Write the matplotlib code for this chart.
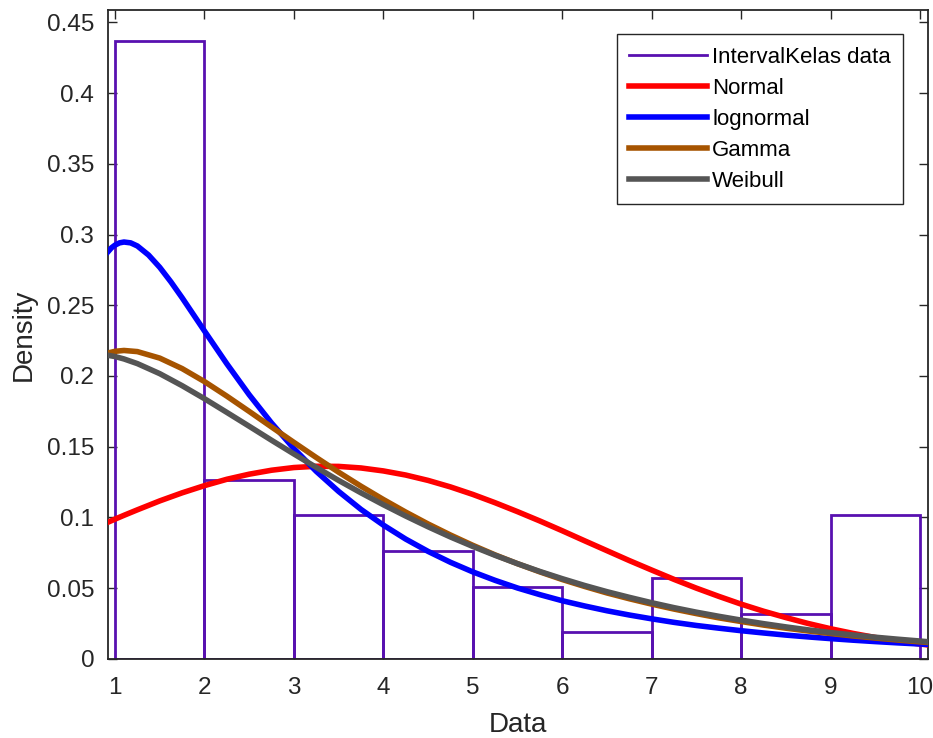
import matplotlib
matplotlib.use("Agg")
import matplotlib.pyplot as plt
from matplotlib.lines import Line2D

plt.rcParams['font.family'] = ['Liberation Sans', 'DejaVu Sans']

# Histogram (density) data
bin_edges = [1, 2, 3, 4, 5, 6, 7, 8, 9, 10]
bin_density = [0.4367, 0.1266, 0.1013, 0.0759, 0.0506, 0.0190, 0.0570, 0.0316, 0.1013]

# Fitted density curves
x_curve = [0.92, 1.0, 1.1, 1.25, 1.5, 1.75, 2.0, 2.25, 2.5, 2.75, 3.0, 3.25, 3.5, 3.75,
           4.0, 4.25, 4.5, 4.75, 5.0, 5.25, 5.5, 5.75, 6.0, 6.25, 6.5, 6.75, 7.0, 7.25,
           7.5, 7.75, 8.0, 8.25, 8.5, 8.75, 9.0, 9.25, 9.5, 9.75, 10.0, 10.09]
normal_pdf = [0.0965, 0.0987, 0.1014, 0.1053, 0.1116, 0.1173, 0.1224, 0.1269, 0.1305, 0.1333,
              0.1352, 0.1361, 0.1360, 0.1349, 0.1328, 0.1299, 0.1261, 0.1215, 0.1162, 0.1103,
              0.1040, 0.0974, 0.0905, 0.0834, 0.0764, 0.0694, 0.0627, 0.0561, 0.0499, 0.0441,
              0.0386, 0.0336, 0.0291, 0.0249, 0.0212, 0.0179, 0.0150, 0.0125, 0.0104, 0.0097]
x_lognormal = [0.92, 0.96, 1.0, 1.05, 1.1, 1.175, 1.25, 1.375, 1.5, 1.625, 1.75, 2.0, 2.25,
               2.5, 2.75, 3.0, 3.25, 3.5, 3.75, 4.0, 4.25, 4.5, 4.75, 5.0, 5.25, 5.5, 5.75,
               6.0, 6.25, 6.5, 6.75, 7.0, 7.25, 7.5, 7.75, 8.0, 8.25, 8.5, 8.75, 9.0, 9.25,
               9.5, 9.75, 10.0, 10.09]
lognormal_pdf = [0.2877, 0.2906, 0.2925, 0.2941, 0.2947, 0.2941, 0.2919, 0.2855, 0.2768, 0.2665,
                 0.2553, 0.2318, 0.2086, 0.1867, 0.1667, 0.1486, 0.1325, 0.1183, 0.1056, 0.0945,
                 0.0846, 0.0759, 0.0682, 0.0614, 0.0554, 0.0500, 0.0453, 0.0410, 0.0373, 0.0339,
                 0.0309, 0.0282, 0.0257, 0.0235, 0.0216, 0.0198, 0.0182, 0.0167, 0.0154, 0.0142,
                 0.0131, 0.0121, 0.0112, 0.0104, 0.0101]
gamma_pdf = [0.2162, 0.2174, 0.2180, 0.2172, 0.2126, 0.2052, 0.1960, 0.1857, 0.1749, 0.1639,
             0.1530, 0.1423, 0.1319, 0.1220, 0.1126, 0.1037, 0.0953, 0.0875, 0.0802, 0.0734,
             0.0672, 0.0614, 0.0560, 0.0511, 0.0465, 0.0424, 0.0386, 0.0351, 0.0319, 0.0289,
             0.0263, 0.0238, 0.0216, 0.0196, 0.0178, 0.0161, 0.0146, 0.0132, 0.0119, 0.0115]
weibull_pdf = [0.2146, 0.2137, 0.2120, 0.2087, 0.2016, 0.1931, 0.1839, 0.1742, 0.1644, 0.1545,
               0.1448, 0.1353, 0.1261, 0.1173, 0.1089, 0.1009, 0.0933, 0.0861, 0.0794, 0.0731,
               0.0672, 0.0617, 0.0566, 0.0518, 0.0474, 0.0434, 0.0396, 0.0361, 0.0329, 0.0300,
               0.0273, 0.0248, 0.0225, 0.0204, 0.0185, 0.0168, 0.0152, 0.0138, 0.0125, 0.0120]

x_ticks = [1, 2, 3, 4, 5, 6, 7, 8, 9, 10]
y_ticks = [0, 0.05, 0.1, 0.15, 0.2, 0.25, 0.3, 0.35, 0.4, 0.45]
y_tick_labels = ['0', '0.05', '0.1', '0.15', '0.2', '0.25', '0.3', '0.35', '0.4', '0.45']
legend_labels = ['IntervalKelas data', 'Normal', 'lognormal', 'Gamma', 'Weibull']

AX_COLOR = '#262626'
HIST_COLOR = '#5810b0'

W, H = 933, 738
fig = plt.figure(figsize=(W / 100, H / 100), dpi=100)
ax = fig.add_axes([107.5 / W, 1 - 658.7 / H, (928.3 - 107.5) / W, (658.7 - 10) / H])

lefts = bin_edges[:-1]
widths = [b - a for a, b in zip(bin_edges[:-1], bin_edges[1:])]
ax.bar(lefts, bin_density, width=widths, align='edge', fill=False,
       edgecolor=HIST_COLOR, linewidth=2.0, zorder=2)

l1, = ax.plot(x_curve, normal_pdf, color='#ff0000', lw=4, zorder=3)
l2, = ax.plot(x_lognormal, lognormal_pdf, color='#0000ff', lw=4, zorder=3)
l3, = ax.plot(x_curve, gamma_pdf, color='#a65400', lw=4, zorder=3)
l4, = ax.plot(x_curve, weibull_pdf, color='#555555', lw=4, zorder=3)

ax.set_xlim(0.916, 10.093)
ax.set_ylim(0, 0.4588)
ax.set_xticks(x_ticks)
ax.set_xticklabels([str(t) for t in x_ticks])
ax.set_yticks(y_ticks)
ax.set_yticklabels(y_tick_labels)

ax.tick_params(direction='in', length=6.5, width=1.0, colors=AX_COLOR,
               labelsize=17.5, top=True, right=True)
ax.tick_params(axis='x', pad=13.5)
ax.tick_params(axis='y', pad=9.5)
for s in ax.spines.values():
    s.set_color(AX_COLOR)
    s.set_linewidth(1.3)

ax.set_xlabel('Data', fontsize=20, color=AX_COLOR, labelpad=9)
ax.set_ylabel('Density', fontsize=20, color=AX_COLOR, labelpad=7)

hist_handle = Line2D([], [], color=HIST_COLOR, lw=2.0)
leg = ax.legend([hist_handle, l1, l2, l3, l4], legend_labels,
                loc='upper right', bbox_to_anchor=(903.3 / W, 1 - 34.3 / H),
                bbox_transform=fig.transFigure, borderaxespad=0,
                fontsize=16, frameon=True, fancybox=False, framealpha=1,
                edgecolor=AX_COLOR, borderpad=0.55, labelspacing=0.45,
                handlelength=3.5, handletextpad=0.25)
leg.get_frame().set_linewidth(1.0)
for t in leg.get_texts():
    t.set_color('black')

fig.savefig('out.png', dpi=100)
